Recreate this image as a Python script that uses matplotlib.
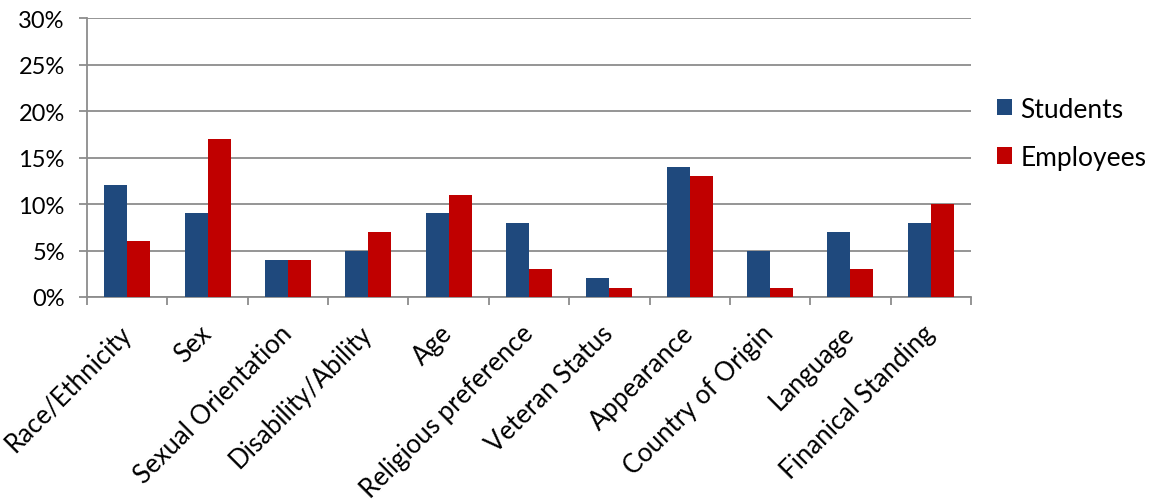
import matplotlib
matplotlib.use("Agg")
import matplotlib.pyplot as plt
import numpy as np
from matplotlib.patches import Patch

plt.rcParams['font.family'] = ['Lato', 'DejaVu Sans']

categories = ["Race/Ethnicity", "Sex", "Sexual Orientation", "Disability/Ability", "Age",
              "Religious preference", "Veteran Status", "Appearance", "Country of Origin",
              "Language", "Finanical Standing"]
students = [12, 9, 4, 5, 9, 8, 2, 14, 5, 7, 8]
employees = [6, 17, 4, 7, 11, 3, 1, 13, 1, 3, 10]
yticks = [0, 5, 10, 15, 20, 25, 30]
ytick_labels = ["0%", "5%", "10%", "15%", "20%", "25%", "30%"]

blue = "#1F497D"
red = "#C00000"
grid = "#8C8C8C"

fig = plt.figure(figsize=(11.5, 5.02), dpi=100)
ax = fig.add_axes([0.0757, 0.4064, 0.7686, 0.5556])

x = np.arange(len(categories))
w = 0.286
ax.bar(x - w / 2, students, width=w, color=blue, zorder=3)
ax.bar(x + w / 2, employees, width=w, color=red, zorder=3)

ax.set_xlim(-0.5, len(categories) - 0.5)
ax.set_ylim(0, 30)
ax.set_yticks(yticks)
ax.set_yticklabels(ytick_labels, fontsize=17)
ax.yaxis.grid(True, color=grid, linewidth=1.3, zorder=0)
ax.set_axisbelow(True)

ax.set_xticks(np.arange(len(categories) + 1) - 0.5, minor=False)
ax.set_xticklabels([])
ax.set_xticks(x, minor=True)
ax.set_xticklabels(categories, minor=True, rotation=45, ha='right', va='center',
                   rotation_mode='anchor', fontsize=18.5)
ax.tick_params(axis='x', which='minor', length=0, pad=23)
ax.tick_params(axis='x', which='major', length=6, width=1.3, color=grid, direction='out')
ax.tick_params(axis='y', length=6, width=1.3, color=grid, direction='out', pad=10)

for side in ['top', 'right']:
    ax.spines[side].set_visible(False)
for side in ['left', 'bottom']:
    ax.spines[side].set_color(grid)
    ax.spines[side].set_linewidth(1.3)

handles = [Patch(facecolor=blue, label="Students"), Patch(facecolor=red, label="Employees")]
fig.legend(handles=handles, loc='upper left', bbox_to_anchor=(0.8465, 0.853), frameon=False,
           fontsize=19, handlelength=0.57, handleheight=0.57, handletextpad=0.3,
           labelspacing=0.88)

fig.savefig("out.png", dpi=100)
